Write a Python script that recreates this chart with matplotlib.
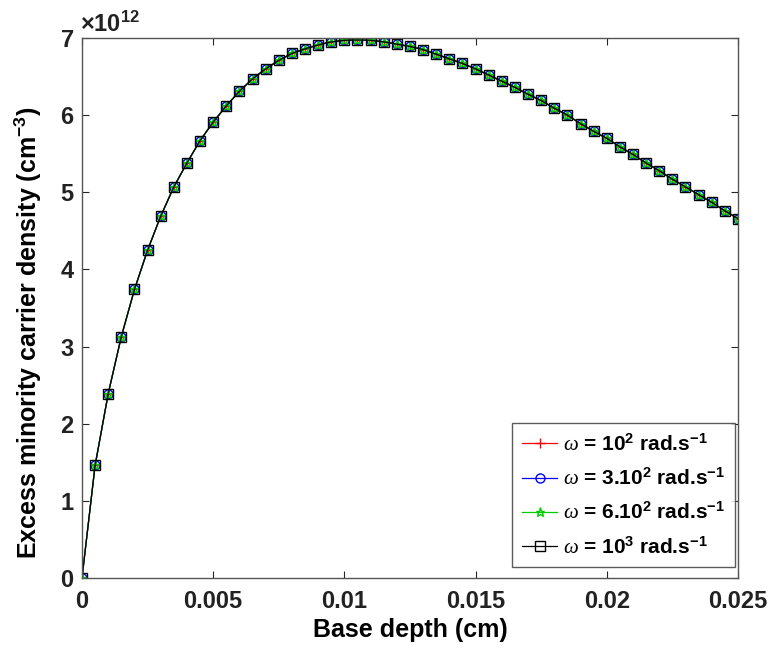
import matplotlib
matplotlib.use("Agg")
import matplotlib.pyplot as plt
import numpy as np

plt.rcParams["font.family"] = ["Liberation Sans", "DejaVu Sans"]
plt.rcParams["font.weight"] = "bold"
plt.rcParams["mathtext.default"] = "regular"
plt.rcParams["mathtext.fontset"] = "custom"
plt.rcParams["mathtext.rm"] = "Liberation Sans:bold"
plt.rcParams["mathtext.it"] = "Liberation Serif:style=italic:weight=normal"

# base depth (cm), one marker every 0.0005 cm
depth = np.round(np.arange(51) * 0.0005, 4)

# excess minority carrier density (x 1e12 cm^-3)
density = [
    0.00, 1.46, 2.39, 3.13, 3.74, 4.25, 4.69, 5.07, 5.38, 5.67,
    5.91, 6.12, 6.31, 6.47, 6.60, 6.71, 6.80, 6.86, 6.91, 6.95,
    6.97, 6.975, 6.97, 6.95, 6.92, 6.89, 6.85, 6.79, 6.73, 6.67,
    6.60, 6.52, 6.44, 6.36, 6.27, 6.19, 6.09, 6.00, 5.89, 5.79,
    5.70, 5.59, 5.49, 5.38, 5.28, 5.17, 5.07, 4.97, 4.87, 4.76,
    4.66,
]

# the four curves overlap exactly in the original
labels = [
    r"$\mathit{\omega}$ = 10$^{2}$ rad.s$^{-1}$",
    r"$\mathit{\omega}$ = 3.10$^{2}$ rad.s$^{-1}$",
    r"$\mathit{\omega}$ = 6.10$^{2}$ rad.s$^{-1}$",
    r"$\mathit{\omega}$ = 10$^{3}$ rad.s$^{-1}$",
]
colors = ["#ff0000", "#0000ff", "#00cc00", "#000000"]
markers = ["+", "o", "*", "s"]

y = np.array(density) * 1e12

fig = plt.figure(figsize=(7.72, 6.52), dpi=100)
ax = fig.add_axes([0.1062, 0.1135, 0.8497, 0.8282])

for lab, col, mk in zip(labels, colors, markers):
    ax.plot(depth, y, color=col, marker=mk, markersize=6.5, linewidth=0.9,
            markerfacecolor="none", markeredgewidth=1.0, label=lab)

ax.set_xlim(0, 0.025)
ax.set_ylim(0, 7e12)
ax.set_xticks([0, 0.005, 0.01, 0.015, 0.02, 0.025])
ax.set_xticklabels(["0", "0.005", "0.01", "0.015", "0.02", "0.025"])
ax.set_yticks(np.arange(8) * 1e12)
ax.set_yticklabels([str(i) for i in range(8)])
ax.tick_params(direction="in", length=5, width=0.8, labelsize=17,
               top=True, right=True, colors="#262626", labelcolor="#222222", pad=6)
ax.tick_params(axis="x", pad=9)
for sp in ax.spines.values():
    sp.set_color("#555555")
    sp.set_linewidth(1.0)

ax.set_xlabel("Base depth (cm)", fontsize=18, fontweight="bold", labelpad=3)
ax.set_ylabel("Excess minority carrier density (cm$^{-3}$)", fontsize=18,
              fontweight="bold")
ax.yaxis.set_label_coords(-0.058, 0.455)
fig.text(0.104, 0.951, r"$\times$10$^{12}$", fontsize=17, ha="left", va="baseline",
         color="#222222")

leg = ax.legend(loc="lower right", bbox_to_anchor=(0.9954, 0.0204), fontsize=15,
                frameon=True, fancybox=False, edgecolor="#333333", borderaxespad=0,
                handlelength=1.7, handletextpad=0.3, labelspacing=0.6, borderpad=0.45)
leg.get_frame().set_linewidth(1.0)

fig.savefig("out.png", dpi=100)
